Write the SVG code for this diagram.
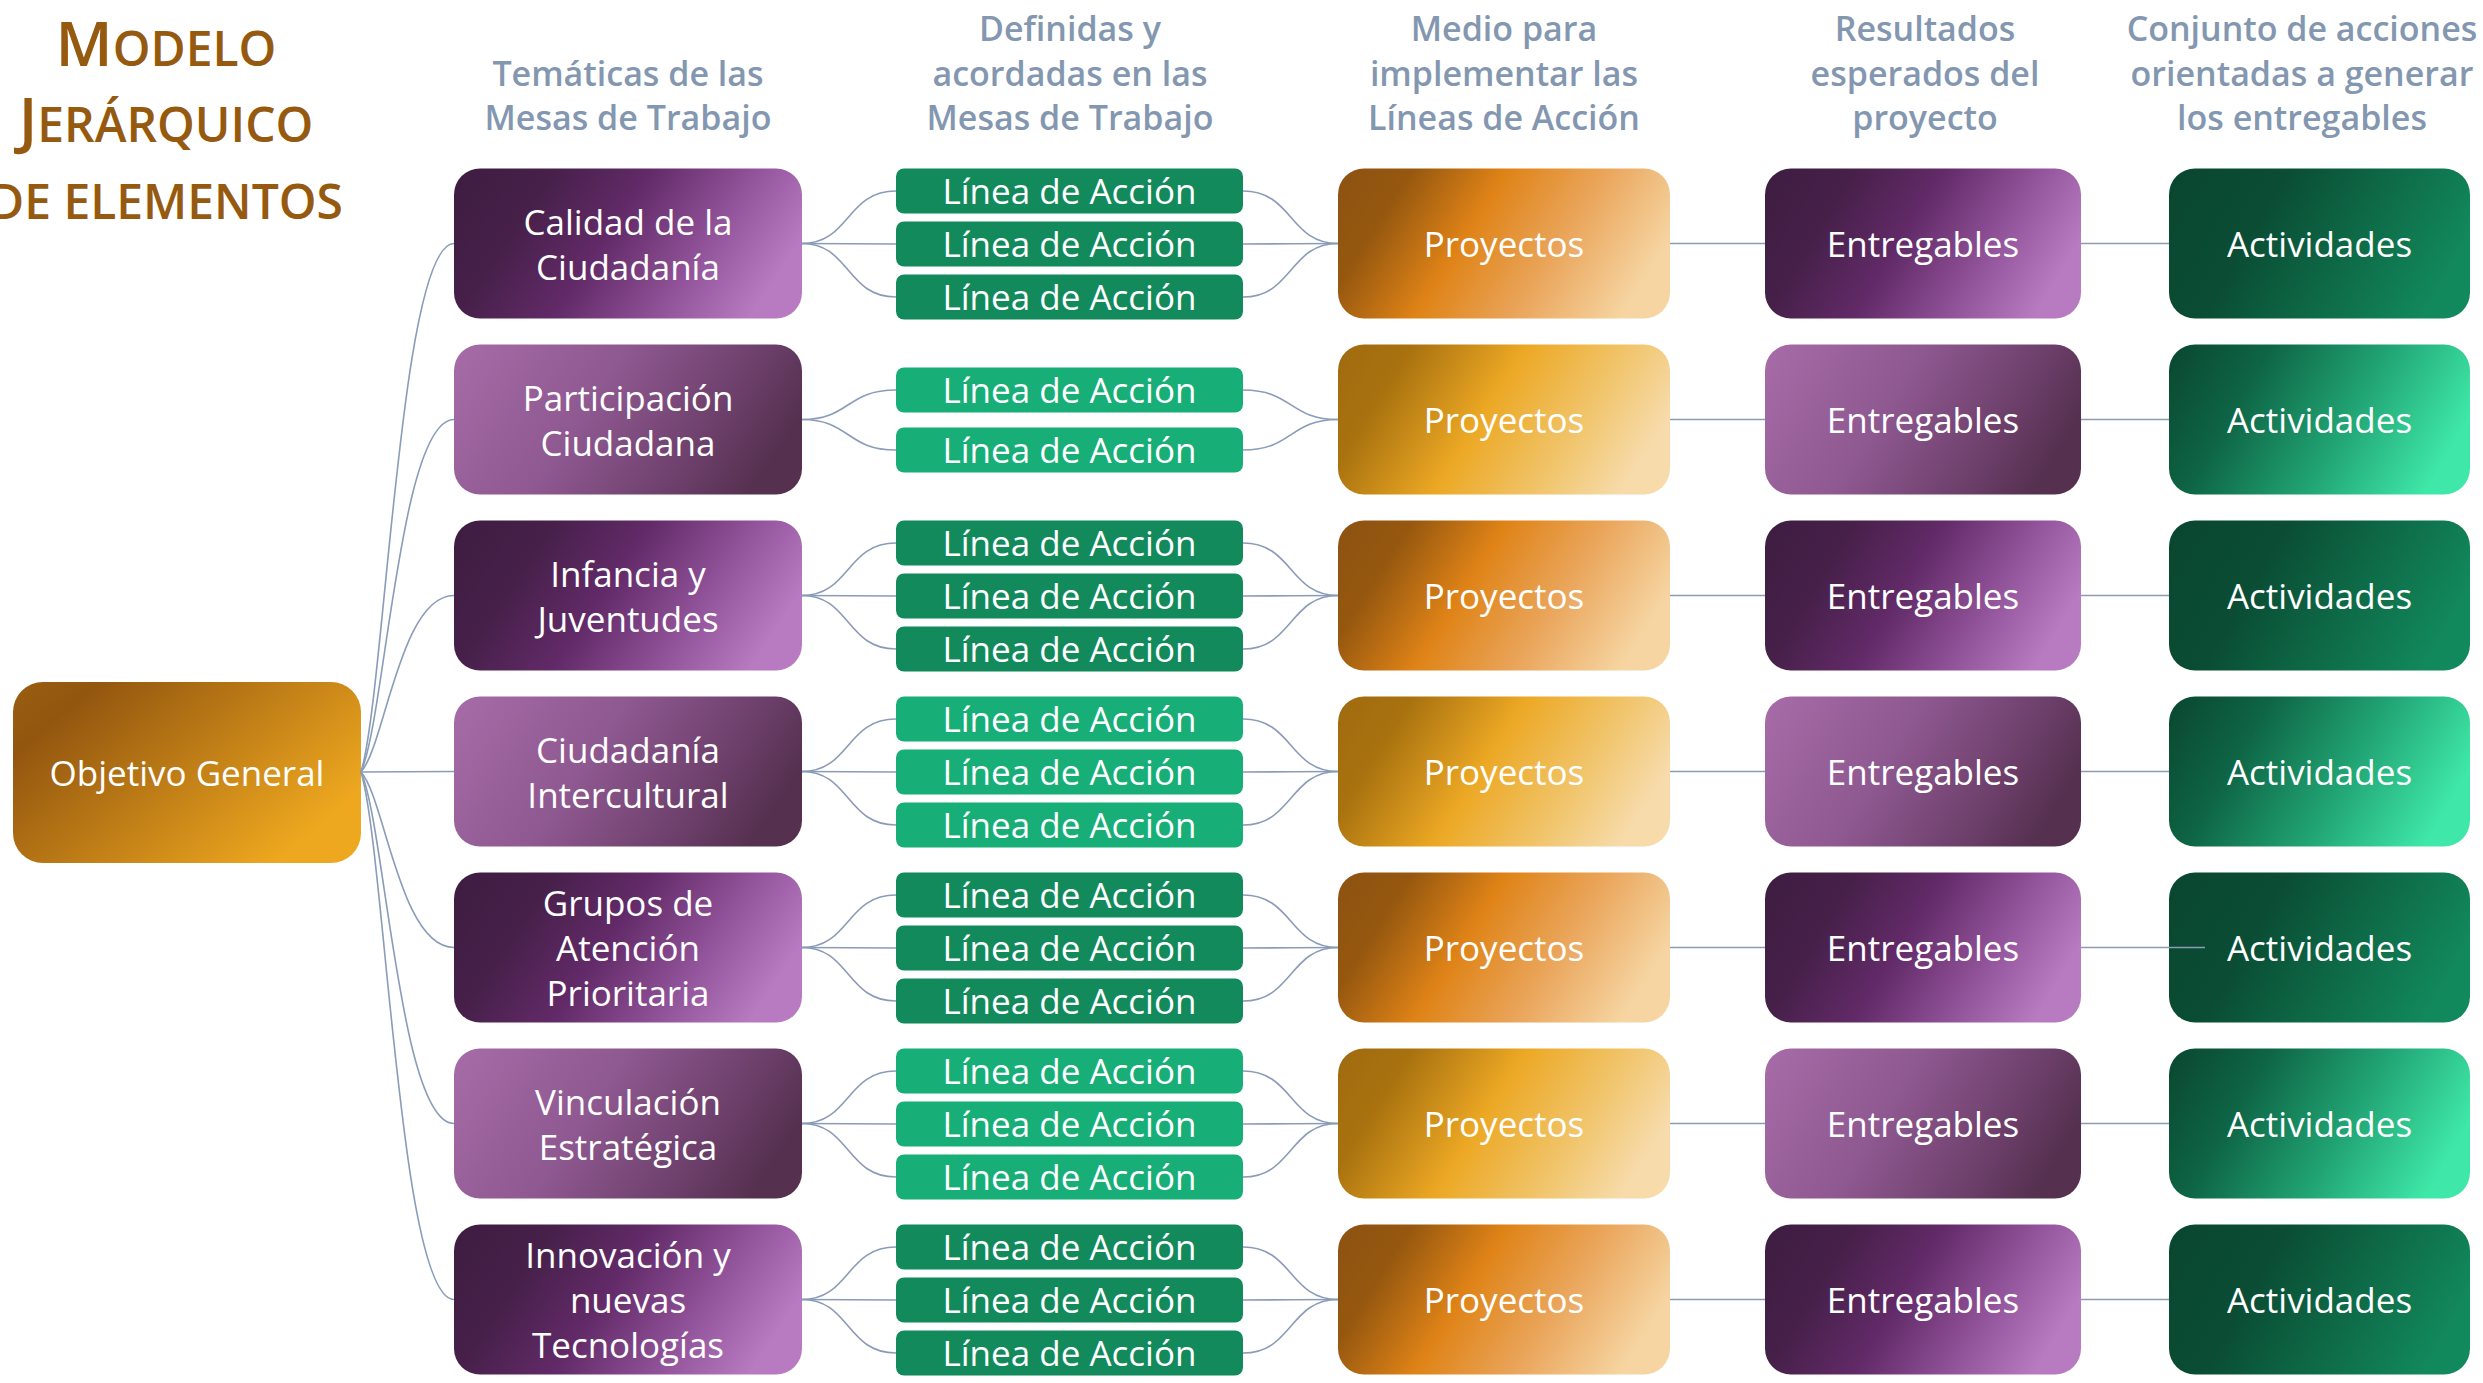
<svg xmlns="http://www.w3.org/2000/svg" width="2483" height="1383" viewBox="0 0 2483 1383">
<style>
text{font-family:"Open Sans","Noto Sans","DejaVu Sans",sans-serif}
.hdr{font-size:34px;font-weight:600;fill:#8497B0;text-anchor:middle}
.lbl{font-size:35px;fill:#FFFFFF;text-anchor:middle}
.ttl{fill:#955A10;font-weight:600;text-anchor:middle}
.conn{fill:none;stroke:#8A9CB8;stroke-width:1.6}
</style>
<defs>
<linearGradient id="gObj" x1="0" y1="0" x2="1" y2="0.6">
<stop offset="0" stop-color="#9A5E10"/><stop offset="0.18" stop-color="#93560F"/><stop offset="1" stop-color="#EEA81F"/>
</linearGradient>
<linearGradient id="gPurDark" x1="0" y1="0" x2="1.05" y2="0.3">
<stop offset="0" stop-color="#3E1C41"/><stop offset="0.25" stop-color="#462049"/><stop offset="0.5" stop-color="#622A68"/><stop offset="0.75" stop-color="#8E5096"/><stop offset="1" stop-color="#B87AC0"/>
</linearGradient>
<linearGradient id="gPurLight" x1="0" y1="0" x2="1.05" y2="0.3">
<stop offset="0" stop-color="#A76CA8"/><stop offset="0.45" stop-color="#8E5890"/><stop offset="0.8" stop-color="#6C3F6A"/><stop offset="1" stop-color="#55304F"/>
</linearGradient>
<linearGradient id="gPrjDark" x1="0" y1="0" x2="1.05" y2="0.3">
<stop offset="0" stop-color="#8D5212"/><stop offset="0.2" stop-color="#96580F"/><stop offset="0.45" stop-color="#DF8317"/><stop offset="0.72" stop-color="#EAA65C"/><stop offset="1" stop-color="#F6D5A2"/>
</linearGradient>
<linearGradient id="gPrjLight" x1="0" y1="0" x2="1.05" y2="0.3">
<stop offset="0" stop-color="#A06A10"/><stop offset="0.2" stop-color="#A9720F"/><stop offset="0.5" stop-color="#ECA824"/><stop offset="0.8" stop-color="#F1C772"/><stop offset="1" stop-color="#F7DBAB"/>
</linearGradient>
<linearGradient id="gActDark" x1="0" y1="0" x2="1.05" y2="0.3">
<stop offset="0" stop-color="#0A4630"/><stop offset="0.35" stop-color="#0A4D34"/><stop offset="1" stop-color="#12895C"/>
</linearGradient>
<linearGradient id="gActLight" x1="0" y1="0" x2="1.05" y2="0.3">
<stop offset="0" stop-color="#0A4630"/><stop offset="0.3" stop-color="#0E6545"/><stop offset="0.65" stop-color="#21A474"/><stop offset="1" stop-color="#3FE8A8"/>
</linearGradient>
</defs>

<g id="title">
<text class="ttl" x="166" y="66"><tspan font-size="62">M</tspan><tspan font-size="48">ODELO</tspan></text>
<text class="ttl" x="166" y="142"><tspan font-size="62">J</tspan><tspan font-size="48">ERÁRQUICO</tspan></text>
<text class="ttl" x="166" y="219" font-size="48">DE ELEMENTOS</text>
</g>

<g id="headers">
<text class="hdr"><tspan x="628" y="86">Temáticas de las</tspan><tspan x="628" y="130">Mesas de Trabajo</tspan></text>
<text class="hdr"><tspan x="1070" y="41">Definidas y</tspan><tspan x="1070" y="86">acordadas en las</tspan><tspan x="1070" y="130">Mesas de Trabajo</tspan></text>
<text class="hdr"><tspan x="1504" y="41">Medio para</tspan><tspan x="1504" y="86">implementar las</tspan><tspan x="1504" y="130">Líneas de Acción</tspan></text>
<text class="hdr"><tspan x="1925" y="41">Resultados</tspan><tspan x="1925" y="86">esperados del</tspan><tspan x="1925" y="130">proyecto</tspan></text>
<text class="hdr"><tspan x="2302" y="41">Conjunto de acciones</tspan><tspan x="2302" y="86">orientadas a generar</tspan><tspan x="2302" y="130">los entregables</tspan></text>
</g>

<g id="objetivo-general">
<rect x="13" y="682" width="348" height="181" rx="30" fill="url(#gObj)"/>
<text class="lbl" x="187" y="786">Objetivo General</text>
</g>

<!-- Row 1 -->
<g id="tema-1">
<rect x="454" y="168.5" width="348" height="150" rx="26" fill="url(#gPurDark)"/>
<text class="lbl"><tspan x="628" y="234.5">Calidad de la</tspan><tspan x="628" y="279.5">Ciudadanía</tspan></text>
</g>
<g id="lineas-1" fill="#128A5C">
<rect x="896" y="168.5" width="347" height="45" rx="8"/>
<rect x="896" y="221.5" width="347" height="45" rx="8"/>
<rect x="896" y="274.5" width="347" height="45" rx="8"/>
<text class="lbl" x="1069.5" y="203.5">Línea de Acción</text>
<text class="lbl" x="1069.5" y="256.5">Línea de Acción</text>
<text class="lbl" x="1069.5" y="309.5">Línea de Acción</text>
</g>
<g id="proyectos-1"><rect x="1338" y="168.5" width="332" height="150" rx="26" fill="url(#gPrjDark)"/><text class="lbl" x="1504" y="256.5">Proyectos</text></g>
<g id="entregables-1"><rect x="1765" y="168.5" width="316" height="150" rx="26" fill="url(#gPurDark)"/><text class="lbl" x="1923" y="256.5">Entregables</text></g>
<g id="actividades-1"><rect x="2169" y="168.5" width="301" height="150" rx="26" fill="url(#gActDark)"/><text class="lbl" x="2319.5" y="256.5">Actividades</text></g>

<!-- Row 2 -->
<g id="tema-2">
<rect x="454" y="344.5" width="348" height="150" rx="26" fill="url(#gPurLight)"/>
<text class="lbl"><tspan x="628" y="410.5">Participación</tspan><tspan x="628" y="455.5">Ciudadana</tspan></text>
</g>
<g id="lineas-2" fill="#17AE77">
<rect x="896" y="367.5" width="347" height="45" rx="8"/>
<rect x="896" y="427.5" width="347" height="45" rx="8"/>
<text class="lbl" x="1069.5" y="402.5">Línea de Acción</text>
<text class="lbl" x="1069.5" y="462.5">Línea de Acción</text>
</g>
<g id="proyectos-2"><rect x="1338" y="344.5" width="332" height="150" rx="26" fill="url(#gPrjLight)"/><text class="lbl" x="1504" y="432.5">Proyectos</text></g>
<g id="entregables-2"><rect x="1765" y="344.5" width="316" height="150" rx="26" fill="url(#gPurLight)"/><text class="lbl" x="1923" y="432.5">Entregables</text></g>
<g id="actividades-2"><rect x="2169" y="344.5" width="301" height="150" rx="26" fill="url(#gActLight)"/><text class="lbl" x="2319.5" y="432.5">Actividades</text></g>

<!-- Row 3 -->
<g id="tema-3">
<rect x="454" y="520.5" width="348" height="150" rx="26" fill="url(#gPurDark)"/>
<text class="lbl"><tspan x="628" y="586.5">Infancia y</tspan><tspan x="628" y="631.5">Juventudes</tspan></text>
</g>
<g id="lineas-3" fill="#128A5C">
<rect x="896" y="520.5" width="347" height="45" rx="8"/>
<rect x="896" y="573.5" width="347" height="45" rx="8"/>
<rect x="896" y="626.5" width="347" height="45" rx="8"/>
<text class="lbl" x="1069.5" y="555.5">Línea de Acción</text>
<text class="lbl" x="1069.5" y="608.5">Línea de Acción</text>
<text class="lbl" x="1069.5" y="661.5">Línea de Acción</text>
</g>
<g id="proyectos-3"><rect x="1338" y="520.5" width="332" height="150" rx="26" fill="url(#gPrjDark)"/><text class="lbl" x="1504" y="608.5">Proyectos</text></g>
<g id="entregables-3"><rect x="1765" y="520.5" width="316" height="150" rx="26" fill="url(#gPurDark)"/><text class="lbl" x="1923" y="608.5">Entregables</text></g>
<g id="actividades-3"><rect x="2169" y="520.5" width="301" height="150" rx="26" fill="url(#gActDark)"/><text class="lbl" x="2319.5" y="608.5">Actividades</text></g>

<!-- Row 4 -->
<g id="tema-4">
<rect x="454" y="696.5" width="348" height="150" rx="26" fill="url(#gPurLight)"/>
<text class="lbl"><tspan x="628" y="762.5">Ciudadanía</tspan><tspan x="628" y="807.5">Intercultural</tspan></text>
</g>
<g id="lineas-4" fill="#17AE77">
<rect x="896" y="696.5" width="347" height="45" rx="8"/>
<rect x="896" y="749.5" width="347" height="45" rx="8"/>
<rect x="896" y="802.5" width="347" height="45" rx="8"/>
<text class="lbl" x="1069.5" y="731.5">Línea de Acción</text>
<text class="lbl" x="1069.5" y="784.5">Línea de Acción</text>
<text class="lbl" x="1069.5" y="837.5">Línea de Acción</text>
</g>
<g id="proyectos-4"><rect x="1338" y="696.5" width="332" height="150" rx="26" fill="url(#gPrjLight)"/><text class="lbl" x="1504" y="784.5">Proyectos</text></g>
<g id="entregables-4"><rect x="1765" y="696.5" width="316" height="150" rx="26" fill="url(#gPurLight)"/><text class="lbl" x="1923" y="784.5">Entregables</text></g>
<g id="actividades-4"><rect x="2169" y="696.5" width="301" height="150" rx="26" fill="url(#gActLight)"/><text class="lbl" x="2319.5" y="784.5">Actividades</text></g>

<!-- Row 5 -->
<g id="tema-5">
<rect x="454" y="872.5" width="348" height="150" rx="26" fill="url(#gPurDark)"/>
<text class="lbl"><tspan x="628" y="916">Grupos de</tspan><tspan x="628" y="961">Atención</tspan><tspan x="628" y="1006">Prioritaria</tspan></text>
</g>
<g id="lineas-5" fill="#128A5C">
<rect x="896" y="872.5" width="347" height="45" rx="8"/>
<rect x="896" y="925.5" width="347" height="45" rx="8"/>
<rect x="896" y="978.5" width="347" height="45" rx="8"/>
<text class="lbl" x="1069.5" y="907.5">Línea de Acción</text>
<text class="lbl" x="1069.5" y="960.5">Línea de Acción</text>
<text class="lbl" x="1069.5" y="1013.5">Línea de Acción</text>
</g>
<g id="proyectos-5"><rect x="1338" y="872.5" width="332" height="150" rx="26" fill="url(#gPrjDark)"/><text class="lbl" x="1504" y="960.5">Proyectos</text></g>
<g id="entregables-5"><rect x="1765" y="872.5" width="316" height="150" rx="26" fill="url(#gPurDark)"/><text class="lbl" x="1923" y="960.5">Entregables</text></g>
<g id="actividades-5"><rect x="2169" y="872.5" width="301" height="150" rx="26" fill="url(#gActDark)"/><text class="lbl" x="2319.5" y="960.5">Actividades</text></g>

<!-- Row 6 -->
<g id="tema-6">
<rect x="454" y="1048.5" width="348" height="150" rx="26" fill="url(#gPurLight)"/>
<text class="lbl"><tspan x="628" y="1114.5">Vinculación</tspan><tspan x="628" y="1159.5">Estratégica</tspan></text>
</g>
<g id="lineas-6" fill="#17AE77">
<rect x="896" y="1048.5" width="347" height="45" rx="8"/>
<rect x="896" y="1101.5" width="347" height="45" rx="8"/>
<rect x="896" y="1154.5" width="347" height="45" rx="8"/>
<text class="lbl" x="1069.5" y="1083.5">Línea de Acción</text>
<text class="lbl" x="1069.5" y="1136.5">Línea de Acción</text>
<text class="lbl" x="1069.5" y="1189.5">Línea de Acción</text>
</g>
<g id="proyectos-6"><rect x="1338" y="1048.5" width="332" height="150" rx="26" fill="url(#gPrjLight)"/><text class="lbl" x="1504" y="1136.5">Proyectos</text></g>
<g id="entregables-6"><rect x="1765" y="1048.5" width="316" height="150" rx="26" fill="url(#gPurLight)"/><text class="lbl" x="1923" y="1136.5">Entregables</text></g>
<g id="actividades-6"><rect x="2169" y="1048.5" width="301" height="150" rx="26" fill="url(#gActLight)"/><text class="lbl" x="2319.5" y="1136.5">Actividades</text></g>

<!-- Row 7 -->
<g id="tema-7">
<rect x="454" y="1224.5" width="348" height="150" rx="26" fill="url(#gPurDark)"/>
<text class="lbl"><tspan x="628" y="1268">Innovación y</tspan><tspan x="628" y="1313">nuevas</tspan><tspan x="628" y="1358">Tecnologías</tspan></text>
</g>
<g id="lineas-7" fill="#128A5C">
<rect x="896" y="1224.5" width="347" height="45" rx="8"/>
<rect x="896" y="1277.5" width="347" height="45" rx="8"/>
<rect x="896" y="1330.5" width="347" height="45" rx="8"/>
<text class="lbl" x="1069.5" y="1259.5">Línea de Acción</text>
<text class="lbl" x="1069.5" y="1312.5">Línea de Acción</text>
<text class="lbl" x="1069.5" y="1365.5">Línea de Acción</text>
</g>
<g id="proyectos-7"><rect x="1338" y="1224.5" width="332" height="150" rx="26" fill="url(#gPrjDark)"/><text class="lbl" x="1504" y="1312.5">Proyectos</text></g>
<g id="entregables-7"><rect x="1765" y="1224.5" width="316" height="150" rx="26" fill="url(#gPurDark)"/><text class="lbl" x="1923" y="1312.5">Entregables</text></g>
<g id="actividades-7"><rect x="2169" y="1224.5" width="301" height="150" rx="26" fill="url(#gActDark)"/><text class="lbl" x="2319.5" y="1312.5">Actividades</text></g>

<g id="connectors" class="conn">
<path d="M361,772 C385,692.7 400,243.5 454,243.5"/>
<path d="M361,772 C385,719.1 400,419.5 454,419.5"/>
<path d="M361,772 C385,745.5 400,595.5 454,595.5"/>
<path d="M361,772 C400,772 410,771.5 454,771.5"/>
<path d="M361,772 C385,798.3 400,947.5 454,947.5"/>
<path d="M361,772 C385,824.7 400,1123.5 454,1123.5"/>
<path d="M361,772 C385,851.1 400,1299.5 454,1299.5"/>
<path d="M802,243.5 C850,243.5 846,191 896,191"/>
<path d="M802,243.5 C850,243.5 846,244 896,244"/>
<path d="M802,243.5 C850,243.5 846,297 896,297"/>
<path d="M1243,191 C1293,191 1289,243.5 1338,243.5"/>
<path d="M1243,244 C1293,244 1289,243.5 1338,243.5"/>
<path d="M1243,297 C1293,297 1289,243.5 1338,243.5"/>
<path d="M1670,243.5 H1765 M2081,243.5 H2169"/>
<path d="M802,419.5 C850,419.5 846,390 896,390"/>
<path d="M802,419.5 C850,419.5 846,450 896,450"/>
<path d="M1243,390 C1293,390 1289,419.5 1338,419.5"/>
<path d="M1243,450 C1293,450 1289,419.5 1338,419.5"/>
<path d="M1670,419.5 H1765 M2081,419.5 H2169"/>
<path d="M802,595.5 C850,595.5 846,543 896,543"/>
<path d="M802,595.5 C850,595.5 846,596 896,596"/>
<path d="M802,595.5 C850,595.5 846,649 896,649"/>
<path d="M1243,543 C1293,543 1289,595.5 1338,595.5"/>
<path d="M1243,596 C1293,596 1289,595.5 1338,595.5"/>
<path d="M1243,649 C1293,649 1289,595.5 1338,595.5"/>
<path d="M1670,595.5 H1765 M2081,595.5 H2169"/>
<path d="M802,771.5 C850,771.5 846,719 896,719"/>
<path d="M802,771.5 C850,771.5 846,772 896,772"/>
<path d="M802,771.5 C850,771.5 846,825 896,825"/>
<path d="M1243,719 C1293,719 1289,771.5 1338,771.5"/>
<path d="M1243,772 C1293,772 1289,771.5 1338,771.5"/>
<path d="M1243,825 C1293,825 1289,771.5 1338,771.5"/>
<path d="M1670,771.5 H1765 M2081,771.5 H2169"/>
<path d="M802,947.5 C850,947.5 846,895 896,895"/>
<path d="M802,947.5 C850,947.5 846,948 896,948"/>
<path d="M802,947.5 C850,947.5 846,1001 896,1001"/>
<path d="M1243,895 C1293,895 1289,947.5 1338,947.5"/>
<path d="M1243,948 C1293,948 1289,947.5 1338,947.5"/>
<path d="M1243,1001 C1293,1001 1289,947.5 1338,947.5"/>
<path d="M1670,947.5 H1765 M2081,947.5 H2205"/>
<path d="M802,1123.5 C850,1123.5 846,1071 896,1071"/>
<path d="M802,1123.5 C850,1123.5 846,1124 896,1124"/>
<path d="M802,1123.5 C850,1123.5 846,1177 896,1177"/>
<path d="M1243,1071 C1293,1071 1289,1123.5 1338,1123.5"/>
<path d="M1243,1124 C1293,1124 1289,1123.5 1338,1123.5"/>
<path d="M1243,1177 C1293,1177 1289,1123.5 1338,1123.5"/>
<path d="M1670,1123.5 H1765 M2081,1123.5 H2169"/>
<path d="M802,1299.5 C850,1299.5 846,1247 896,1247"/>
<path d="M802,1299.5 C850,1299.5 846,1300 896,1300"/>
<path d="M802,1299.5 C850,1299.5 846,1353 896,1353"/>
<path d="M1243,1247 C1293,1247 1289,1299.5 1338,1299.5"/>
<path d="M1243,1300 C1293,1300 1289,1299.5 1338,1299.5"/>
<path d="M1243,1353 C1293,1353 1289,1299.5 1338,1299.5"/>
<path d="M1670,1299.5 H1765 M2081,1299.5 H2169"/>
</g>
</svg>
